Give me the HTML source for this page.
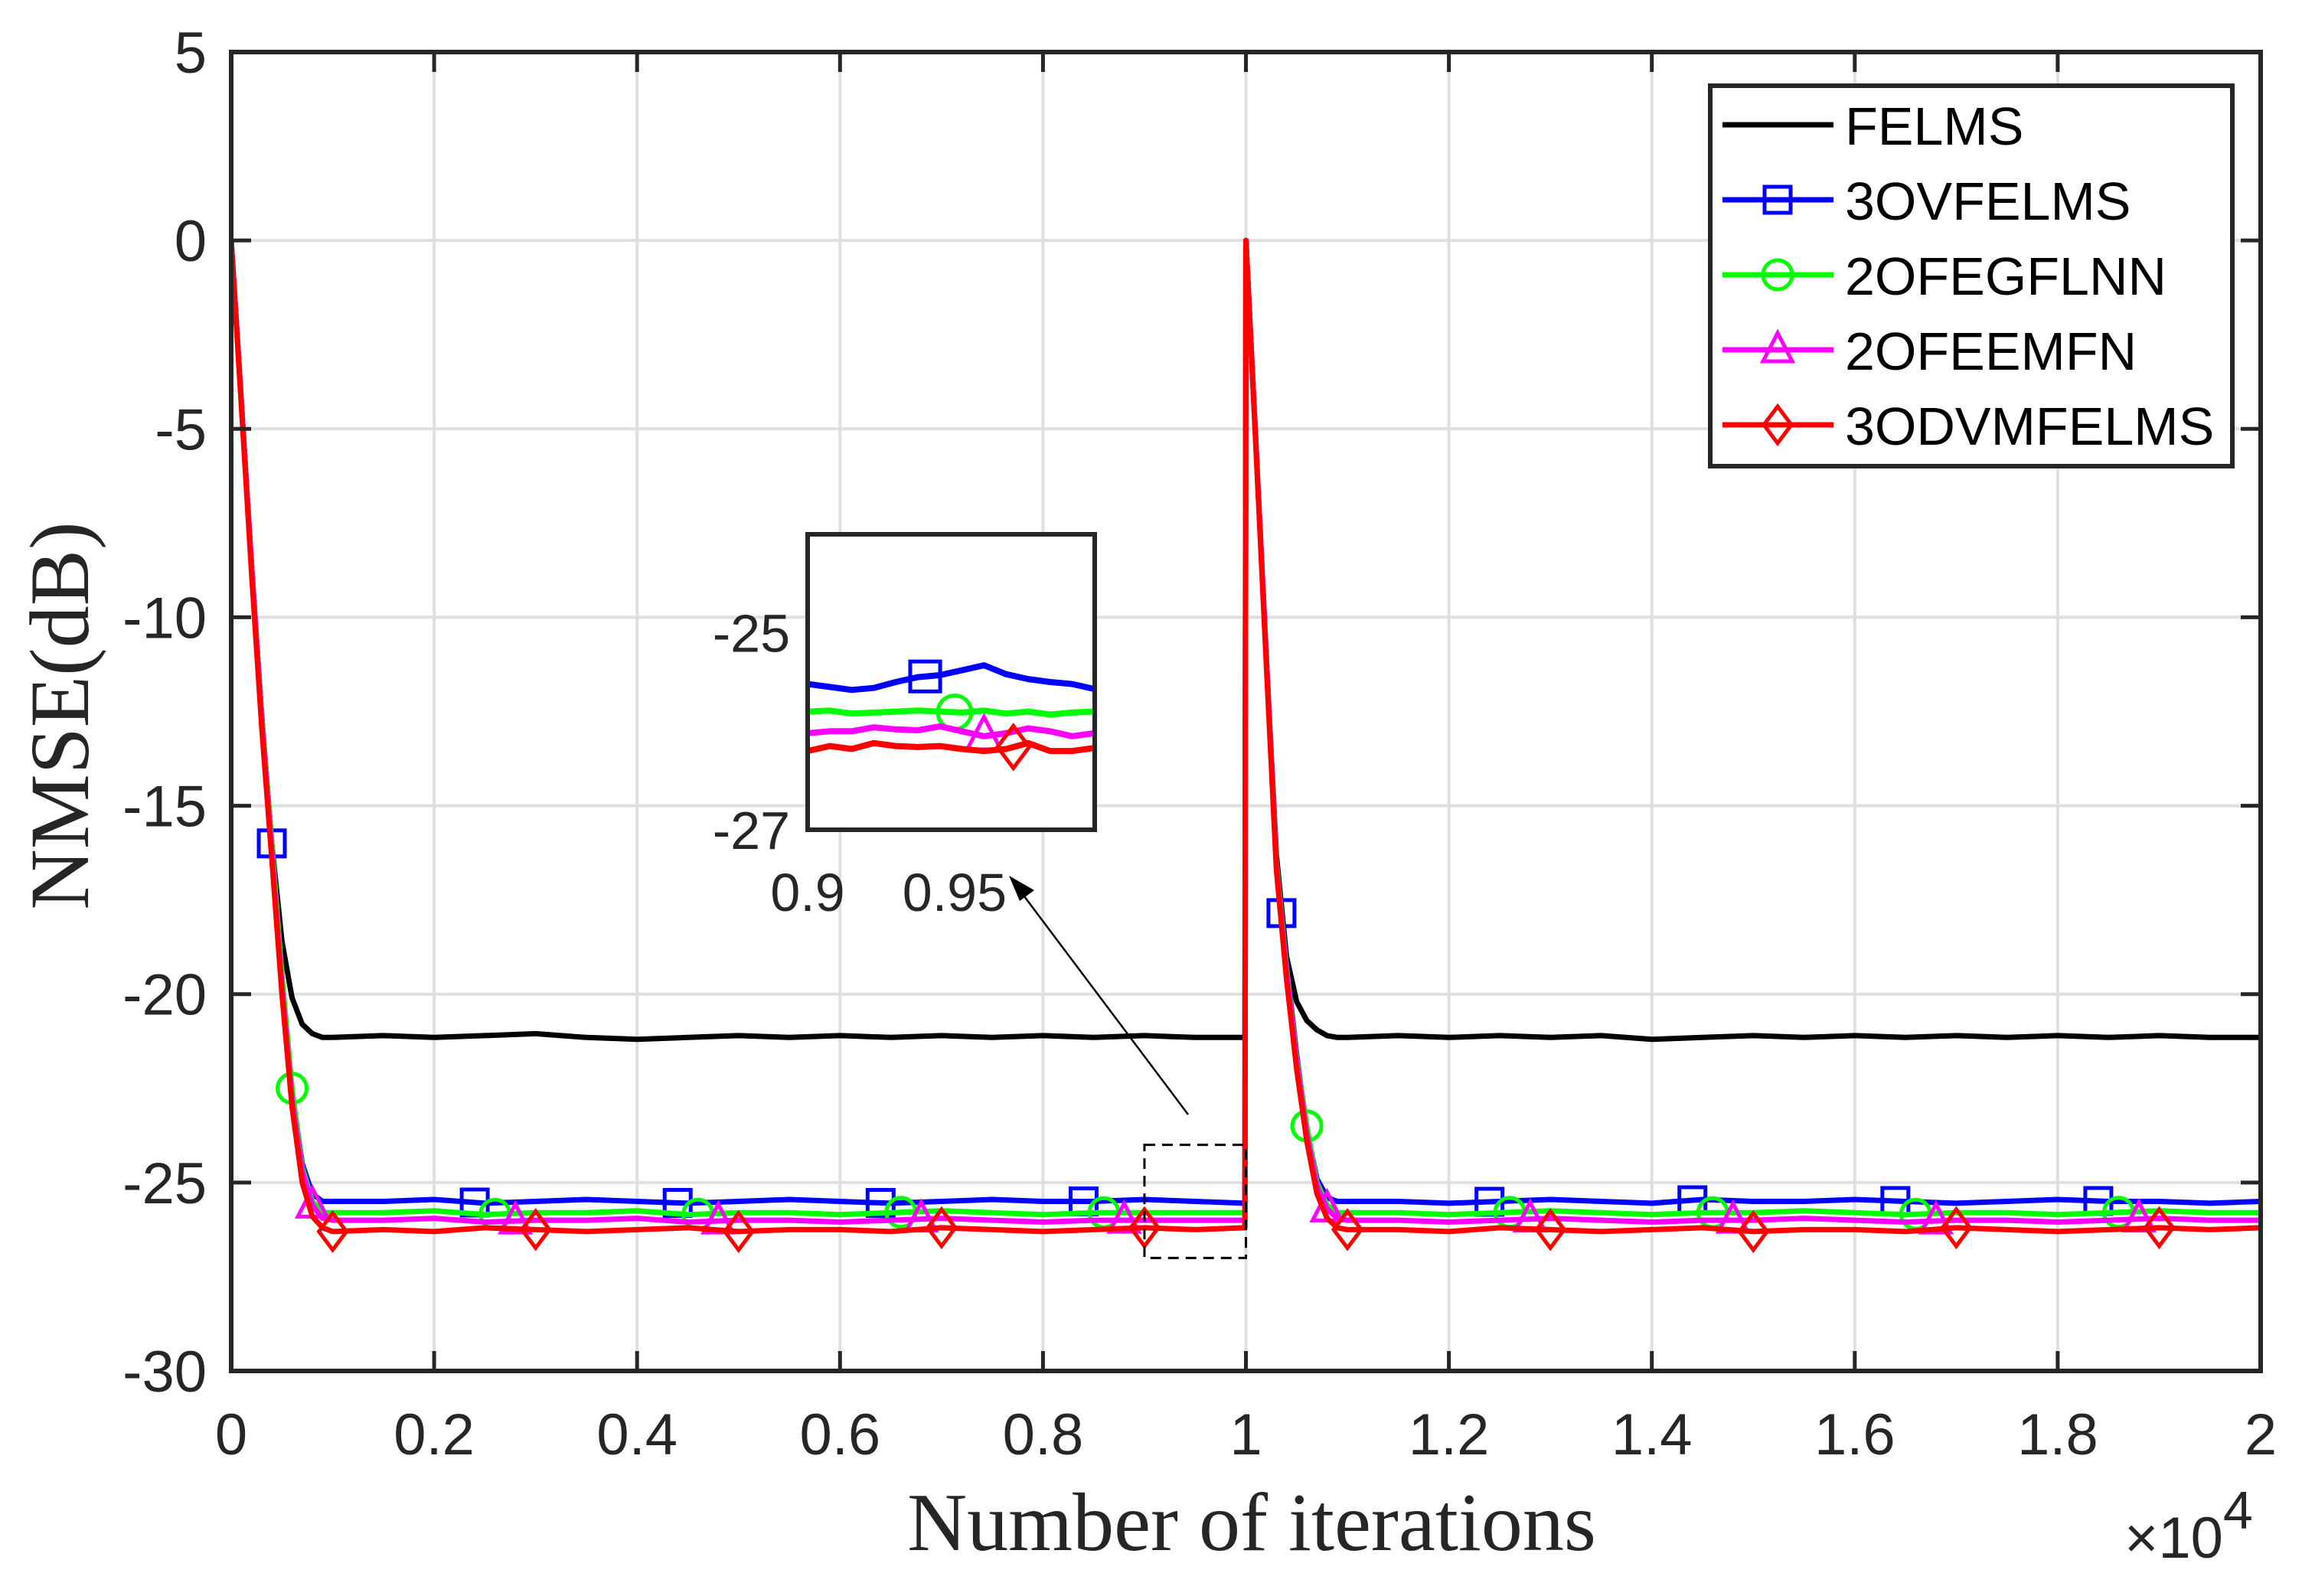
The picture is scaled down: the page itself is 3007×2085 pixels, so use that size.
<!DOCTYPE html>
<html><head><meta charset="utf-8"><style>
html,body{margin:0;padding:0;background:#fff;}
svg{display:block;}
text{font-family:"Liberation Sans",sans-serif;fill:#262626;}
</style></head>
<body>
<svg id="chart" width="3007" height="2085" viewBox="0 0 3007 2085" xmlns="http://www.w3.org/2000/svg">
<defs>
<clipPath id="mainclip"><rect x="302" y="68" width="2651" height="1723"/></clipPath>
<clipPath id="insetclip"><rect x="1055" y="698" width="375" height="386"/></clipPath>
</defs>
<rect width="3007" height="2085" fill="#fff"/>
<g id="grid"></g>
<g id="series" clip-path="url(#mainclip)"></g>
<g id="axes"></g>
<g id="overlay"></g>
</svg>
<script>
// ---- data ----
const iters = [0,100,200,300,400,500,600,700,800,900,1000,
 1500,2000,2500,3000,3500,4000,4500,5000,5500,6000,6500,7000,7500,8000,8500,9000,9500,9990,
 10000,10100,10200,10300,10400,10500,10600,10700,10800,10900,11000,
 11500,12000,12500,13000,13500,14000,14500,15000,15500,16000,16500,17000,17500,18000,18500,19000,19500,20000];
const felms = [0,-4.3,-8.6,-12.6,-16,-18.6,-20.1,-20.8,-21.05,-21.15,-21.15,
 -21.1,-21.15,-21.1,-21.05,-21.15,-21.2,-21.15,-21.1,-21.15,-21.1,-21.15,-21.1,-21.15,-21.1,-21.15,-21.1,-21.15,-21.15,
 0,-5.5,-11,-16.3,-19,-20.2,-20.7,-20.95,-21.1,-21.15,-21.15,
 -21.1,-21.15,-21.1,-21.15,-21.1,-21.2,-21.15,-21.1,-21.15,-21.1,-21.15,-21.1,-21.15,-21.1,-21.15,-21.1,-21.15,-21.15];
const ovfelms = [0,-4.3,-8.6,-12.6,-16,-19.6,-22.6,-24.5,-25.3,-25.5,-25.5,
 -25.5,-25.45,-25.55,-25.5,-25.45,-25.5,-25.55,-25.5,-25.45,-25.5,-25.55,-25.5,-25.45,-25.5,-25.5,-25.45,-25.5,-25.55,
 0,-5.5,-11,-16.5,-19.2,-21.6,-23.6,-24.9,-25.4,-25.5,-25.5,
 -25.5,-25.55,-25.5,-25.45,-25.5,-25.55,-25.45,-25.5,-25.5,-25.45,-25.5,-25.55,-25.5,-25.45,-25.5,-25.5,-25.55,-25.5];
const egflnn = [0,-4.3,-8.6,-12.6,-16,-19.5,-22.5,-24.6,-25.5,-25.8,-25.8,
 -25.8,-25.75,-25.85,-25.8,-25.8,-25.75,-25.85,-25.8,-25.8,-25.85,-25.8,-25.75,-25.8,-25.85,-25.8,-25.8,-25.8,-25.8,
 0,-5.5,-11,-16.5,-19.3,-21.7,-23.5,-25.0,-25.6,-25.8,-25.8,
 -25.8,-25.85,-25.8,-25.75,-25.8,-25.85,-25.8,-25.8,-25.75,-25.8,-25.85,-25.8,-25.8,-25.85,-25.8,-25.75,-25.8,-25.8];
const eemfn = [0,-4.3,-8.6,-12.7,-16.2,-19.8,-22.8,-24.7,-25.6,-25.95,-26.0,
 -26.0,-25.95,-26.05,-26.0,-26.0,-25.95,-26.05,-26.0,-26.0,-26.05,-26.0,-25.95,-26.0,-26.05,-26.0,-26.0,-26.0,-26.0,
 0,-5.5,-11,-16.6,-19.4,-21.8,-23.7,-25.1,-25.7,-25.95,-26.0,
 -26.0,-26.05,-26.0,-25.95,-26.0,-26.05,-26.0,-26.0,-25.95,-26.0,-26.05,-26.0,-26.0,-26.05,-26.0,-25.95,-26.0,-26.0];
const dvmfelms = [0,-4.4,-8.8,-12.9,-16.4,-20,-23,-25,-25.9,-26.2,-26.3,
 -26.25,-26.3,-26.2,-26.25,-26.3,-26.25,-26.2,-26.3,-26.25,-26.25,-26.3,-26.2,-26.25,-26.3,-26.25,-26.2,-26.25,-26.2,
 0,-5.6,-11.2,-16.7,-19.6,-22,-23.9,-25.3,-25.95,-26.2,-26.25,
 -26.25,-26.3,-26.2,-26.25,-26.3,-26.25,-26.2,-26.3,-26.25,-26.25,-26.3,-26.2,-26.25,-26.3,-26.25,-26.2,-26.25,-26.2];
const markersBlue = [400,2400,4400,6400,8400,10350,12400,14400,16400,18400];
const markersGreen = [600,2600,4600,6600,8600,10600,12600,14600,16600,18600];
const markersMagenta = [800,2800,4800,6800,8800,10800,12800,14800,16800,18800];
const markersRed = [1000,3000,5000,7000,9000,11000,13000,15000,17000,19000];
const xTicks = [0,0.2,0.4,0.6,0.8,1,1.2,1.4,1.6,1.8,2];
const xTickLabels = ["0","0.2","0.4","0.6","0.8","1","1.2","1.4","1.6","1.8","2"];
const yTicks = [5,0,-5,-10,-15,-20,-25,-30];
const yTickLabels = ["5","0","-5","-10","-15","-20","-25","-30"];
// inset data
const insetIters = [9000,9075,9150,9225,9300,9375,9450,9525,9600,9675,9750,9825,9900,9975];
const insetBlue = [-25.52,-25.55,-25.58,-25.56,-25.5,-25.45,-25.43,-25.38,-25.33,-25.42,-25.47,-25.5,-25.52,-25.57];
const insetGreen = [-25.8,-25.79,-25.82,-25.81,-25.8,-25.79,-25.8,-25.81,-25.79,-25.82,-25.8,-25.83,-25.81,-25.8];
const insetMagenta = [-26.02,-26.0,-26.0,-25.96,-25.98,-25.99,-25.95,-26.0,-26.05,-26.02,-25.97,-26.0,-26.05,-26.02];
const insetRed = [-26.2,-26.15,-26.18,-26.12,-26.15,-26.16,-26.15,-26.18,-26.2,-26.18,-26.12,-26.2,-26.2,-26.17];
const insetMarkers = [9400,9500,9600,9700];
const legendLabels = ["FELMS","3OVFELMS","2OFEGFLNN","2OFEEMFN","3ODVMFELMS"];

// ---- axes ----
const NS="http://www.w3.org/2000/svg";
const PL=302,PR=2953,PT=68,PB=1791;
const xS = v => PL + v/20000*(PR-PL);
const yS = v => PT + (5-v)/35*(PB-PT);
const IL=1055,IR=1430,IT=698,IB=1084;
const ixS = v => IL + (v-9000)/(9977-9000)*(IR-IL);
const iyS = v => IT + (-24-v)/3*(IB-IT);

function mk(tag, attrs, parent){const e=document.createElementNS(NS,tag);for(const k in attrs)e.setAttribute(k,attrs[k]);parent.appendChild(e);return e;}
const grid=document.getElementById('grid'), axes=document.getElementById('axes'), ser=document.getElementById('series'), ov=document.getElementById('overlay');

xTicks.forEach((t,i)=>{const x=xS(t*10000);
 const g=mk('line',{x1:x,x2:x,y1:PT,y2:PB,stroke:'#dfdfdf','stroke-width':4},grid);
 
 
 mk('line',{x1:x,x2:x,y1:PB,y2:PB-26,stroke:'#262626','stroke-width':5},axes);
 mk('line',{x1:x,x2:x,y1:PT,y2:PT+26,stroke:'#262626','stroke-width':5},axes);
 const tx=mk('text',{x:x,y:1900,'font-size':76,'text-anchor':'middle'},axes);tx.textContent=xTickLabels[i];
 
 
});
yTicks.forEach((t,i)=>{const y=yS(t);
 const g=mk('line',{x1:PL,x2:PR,y1:y,y2:y,stroke:'#dfdfdf','stroke-width':4},grid);
 
 
 mk('line',{x1:PL,x2:PL+26,y1:y,y2:y,stroke:'#262626','stroke-width':5},axes);
 mk('line',{x1:PR,x2:PR-26,y1:y,y2:y,stroke:'#262626','stroke-width':5},axes);
 const tx=mk('text',{x:270,y:y+27,'font-size':76,'text-anchor':'end'},axes);tx.textContent=yTickLabels[i];
 
 
});
const frame=mk('rect',{x:PL,y:PT,width:PR-PL,height:PB-PT,fill:'none',stroke:'#262626','stroke-width':6},axes);



// markers
function marker(type,x,y,color,parent,s){
 s=s||1;let e;
 if(type==='square') e=mk('rect',{x:x-17*s,y:y-17*s,width:34*s,height:34*s},parent);
 else if(type==='circle') e=mk('circle',{cx:x,cy:y,r:19*s},parent);
 else if(type==='triangle') e=mk('polygon',{points:`${x},${y-22*s} ${x-19*s},${y+15*s} ${x+19*s},${y+15*s}`},parent);
 else e=mk('polygon',{points:`${x},${y-24*s} ${x+18*s},${y} ${x},${y+24*s} ${x-18*s},${y}`},parent);
 e.setAttribute('fill','none');e.setAttribute('stroke',color);e.setAttribute('stroke-width',5);
 return e;
}
function interp(xs,ys,v){for(let i=0;i<xs.length-1;i++){if(v>=xs[i]&&v<=xs[i+1]){const f=(v-xs[i])/(xs[i+1]-xs[i]);return ys[i]+f*(ys[i+1]-ys[i]);}}return ys[ys.length-1];}

const seriesDefs=[
 {name:'felms',vals:felms,color:'#000000',mtype:null,marks:[],ins:null},
 {name:'3ovfelms',vals:ovfelms,color:'#0000ff',mtype:'square',marks:markersBlue,ins:insetBlue},
 {name:'2ofegflnn',vals:egflnn,color:'#00ff00',mtype:'circle',marks:markersGreen,ins:insetGreen},
 {name:'2ofeemfn',vals:eemfn,color:'#ff00ff',mtype:'triangle',marks:markersMagenta,ins:insetMagenta},
 {name:'3odvmfelms',vals:dvmfelms,color:'#ff0000',mtype:'diamond',marks:markersRed,ins:insetRed}
];
seriesDefs.forEach(s=>{
 const d=iters.map((it,i)=>(i?'L':'M')+xS(it).toFixed(1)+','+yS(s.vals[i]).toFixed(1)).join(' ');
 const p=mk('path',{d:d,fill:'none',stroke:s.color,'stroke-width':7,'stroke-linejoin':'round'},ser);
 
 
 s.marks.forEach(m=>{const e=marker(s.mtype,xS(m),yS(interp(iters,s.vals,m)),s.color,ser);
  
  });
});

// dashed zoom box + arrow
const zb=mk('rect',{x:xS(9000),y:yS(-24),width:xS(10000)-xS(9000),height:yS(-27)-yS(-24),fill:'none',stroke:'#000','stroke-width':3,'stroke-dasharray':'14,9'},ov);


const ar=mk('line',{x1:1552,y1:1456,x2:1335,y2:1167,stroke:'#000','stroke-width':2.5},ov);


const ah=mk('polygon',{points:'1318,1144 1351,1163 1332,1177',fill:'#000'},ov);



// inset
const ig=mk('g',{},ov);


mk('rect',{x:IL,y:IT,width:IR-IL,height:IB-IT,fill:'#fff'},ig);
const ic=mk('g',{'clip-path':'url(#insetclip)'},ig);
seriesDefs.forEach((s,k)=>{ if(!s.ins) return;
 const d=insetIters.map((it,i)=>(i?'L':'M')+ixS(it).toFixed(1)+','+iyS(s.ins[i]).toFixed(1)).join(' ');
 const p=mk('path',{d:d,fill:'none',stroke:s.color,'stroke-width':8,'stroke-linejoin':'round'},ic);
 
 
 const mx=insetMarkers[k-1];
 const e=marker(s.mtype,ixS(mx),iyS(interp(insetIters,s.ins,mx)),s.color,ic,1.15);
 
 
});
mk('rect',{x:IL,y:IT,width:IR-IL,height:IB-IT,fill:'none',stroke:'#262626','stroke-width':6},ig);
[[-25,'-25'],[-27,'-27']].forEach(([v,l])=>{const t=mk('text',{x:1032,y:iyS(v)+25,'font-size':70,'text-anchor':'end'},ig);t.textContent=l;
 
 });
[[9000,'0.9'],[9500,'0.95']].forEach(([v,l])=>{const t=mk('text',{x:ixS(v),y:1190,'font-size':70,'text-anchor':'middle'},ig);t.textContent=l;
 
 });

// legend
const lg=mk('g',{},ov);


mk('rect',{x:2234,y:112,width:682,height:497,fill:'#fff',stroke:'#262626','stroke-width':6},lg);
seriesDefs.forEach((s,i)=>{const y=163+i*98;
 const en=mk('g',{},lg);
 
 
 mk('line',{x1:2250,x2:2395,y1:y,y2:y,stroke:s.color,'stroke-width':7},en);
 if(s.mtype) marker(s.mtype,2322,y,s.color,en);
 const t=mk('text',{x:2410,y:y+26,'font-size':70,fill:'#000'},en);t.textContent=legendLabels[i];
 t.style.fill='#000';
});

// axis titles
const yl=mk('text',{x:0,y:0,'font-size':110,'text-anchor':'middle',transform:'translate(115,935) rotate(-90)'},axes);
yl.style.fontFamily='"Liberation Serif",serif';yl.textContent='NMSE(dB)';


const xl=mk('text',{x:1635,y:2025,'font-size':108,'text-anchor':'middle'},axes);
xl.style.fontFamily='"Liberation Serif",serif';xl.textContent='Number of iterations';


const ex=mk('text',{x:2775,y:2035,'font-size':76},axes);
ex.innerHTML='×10<tspan dy="-38" font-size="70">4</tspan>';


</script>
</body></html>
